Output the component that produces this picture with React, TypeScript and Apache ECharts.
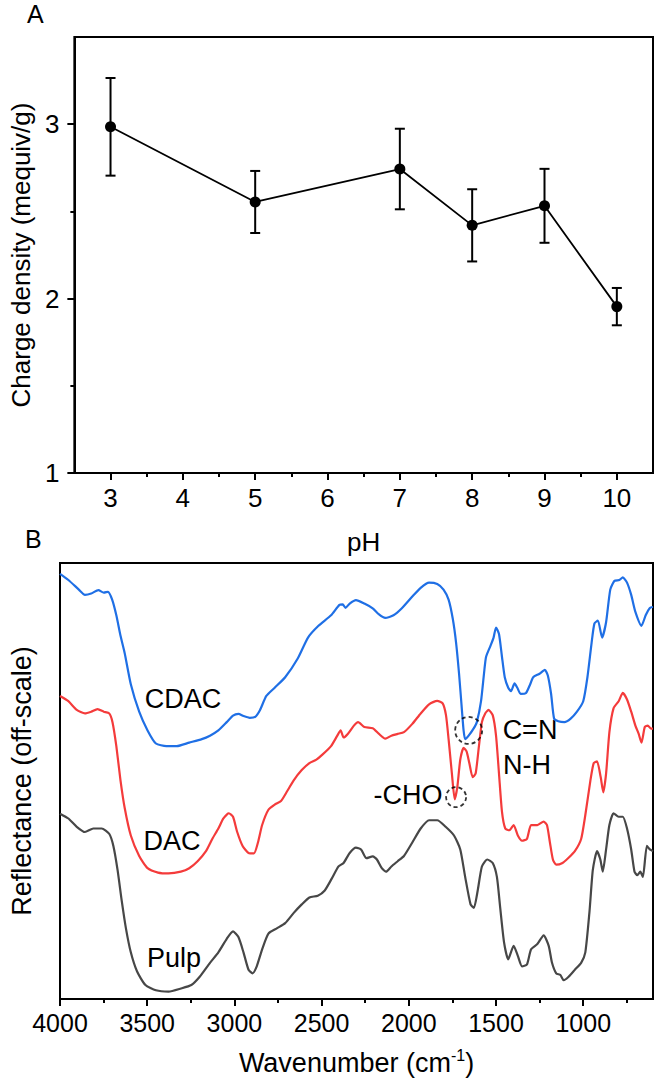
import React, { useEffect, useRef } from "react";
import * as echarts from "echarts";

// ---------- Panel A data ----------
const phValues = [3, 5, 7, 8, 9, 10];
const chargeDensity = [2.985, 2.554, 2.743, 2.42, 2.532, 1.954];
const chargeError = [0.28, 0.178, 0.231, 0.207, 0.212, 0.107];

const phMajorTicks = [3, 4, 5, 6, 7, 8, 9, 10];
const phMinorTicks = [3.5, 4.5, 5.5, 6.5, 7.5, 8.5, 9.5];
const densityTicks = [1, 2, 3];
const densityMinorTicks = [1.5, 2.5];

// ---------- Panel B data (wavenumber, reflectance off-scale) ----------
const wnMajorTicks = [4000, 3500, 3000, 2500, 2000, 1500, 1000];
const wnMinorTicks = [3750, 3250, 2750, 2250, 1750, 1250, 750];

const cdacSpectrum = [
  [4000, 97.5], [3952, 96.1], [3892, 93.9], [3857, 92.7], [3821, 93.0], [3780, 93.8], [3749, 93.2],
  [3725, 93.4], [3701, 91.6], [3677, 88.0], [3653, 83.3], [3629, 79.3], [3594, 72.2], [3546, 65.9],
  [3498, 61.6], [3450, 58.6], [3390, 58.0], [3331, 58.0], [3259, 58.8], [3187, 59.6], [3140, 60.4],
  [3092, 61.6], [3044, 63.5], [3008, 65.0], [2977, 65.4], [2948, 64.9], [2912, 64.5], [2881, 64.7],
  [2853, 66.3], [2817, 69.5], [2769, 71.4], [2709, 73.8], [2637, 78.1], [2578, 82.9], [2518, 85.6],
  [2446, 88.0], [2398, 90.4], [2379, 90.5], [2363, 89.7], [2339, 90.7], [2303, 91.5], [2255, 90.7],
  [2207, 89.6], [2171, 88.2], [2135, 87.4], [2088, 88.0], [2040, 89.6], [1980, 92.3], [1932, 94.3],
  [1884, 95.5], [1837, 95.2], [1801, 93.9], [1772, 91.6], [1748, 87.2], [1729, 81.7], [1712, 74.6],
  [1698, 67.5], [1686, 61.6], [1677, 59.6], [1657, 60.4], [1629, 62.0], [1610, 63.5], [1586, 68.3],
  [1567, 75.4], [1557, 78.5], [1533, 80.9], [1514, 82.9], [1500, 85.2], [1483, 83.7], [1466, 78.5],
  [1450, 73.8], [1430, 71.4], [1414, 70.6], [1394, 72.4], [1378, 71.4], [1359, 70.0], [1328, 70.2],
  [1304, 72.2], [1287, 73.8], [1251, 74.6], [1220, 75.5], [1203, 74.2], [1184, 69.9], [1167, 64.3],
  [1143, 63.7], [1108, 63.5], [1072, 64.3], [1036, 65.9], [1000, 68.3], [976, 73.8], [952, 81.7],
  [936, 86.1], [916, 86.8], [892, 82.9], [869, 86.4], [845, 93.9], [821, 95.9], [793, 96.1],
  [773, 96.7], [749, 95.5], [725, 92.7], [701, 88.8], [666, 85.6], [642, 88.0], [618, 89.7], [600, 89.9],
];

const dacSpectrum = [
  [4000, 69.5], [3952, 68.3], [3904, 66.3], [3857, 65.5], [3821, 65.9], [3785, 66.5], [3749, 65.9],
  [3718, 65.5], [3699, 63.5], [3677, 58.0], [3653, 50.1], [3629, 43.8], [3594, 37.5], [3546, 32.8],
  [3498, 30.0], [3438, 29.0], [3378, 28.8], [3307, 29.2], [3259, 30.0], [3211, 31.6], [3163, 33.9],
  [3127, 36.7], [3092, 39.1], [3063, 41.4], [3032, 42.6], [3008, 41.8], [2984, 38.3], [2953, 35.1],
  [2919, 33.5], [2888, 33.4], [2865, 35.9], [2841, 39.9], [2805, 43.4], [2769, 44.6], [2733, 45.4],
  [2697, 47.7], [2661, 50.1], [2614, 52.5], [2570, 54.1], [2530, 54.9], [2494, 56.1], [2446, 58.0],
  [2410, 60.4], [2391, 61.6], [2374, 60.0], [2350, 60.8], [2315, 62.7], [2291, 63.5], [2255, 62.4],
  [2207, 62.1], [2171, 60.8], [2135, 59.7], [2100, 60.4], [2064, 60.8], [2028, 61.2], [1980, 63.1],
  [1932, 65.5], [1884, 67.6], [1837, 68.4], [1806, 67.8], [1787, 65.1], [1772, 59.6], [1753, 51.7],
  [1737, 45.8], [1722, 48.6], [1705, 54.9], [1686, 57.6], [1669, 56.8], [1653, 54.1], [1634, 50.9],
  [1617, 51.7], [1598, 58.0], [1581, 63.5], [1562, 65.5], [1543, 66.3], [1519, 65.1], [1500, 60.4],
  [1483, 51.7], [1466, 43.0], [1447, 39.1], [1423, 38.7], [1399, 39.9], [1375, 37.5], [1351, 36.3],
  [1323, 36.7], [1299, 39.9], [1263, 39.9], [1227, 40.7], [1208, 39.9], [1191, 35.9], [1174, 32.0],
  [1155, 30.8], [1119, 31.2], [1084, 32.4], [1048, 33.9], [1012, 36.7], [988, 42.2], [959, 50.1],
  [940, 54.1], [921, 54.5], [900, 50.9], [885, 47.4], [869, 51.7], [850, 61.2], [826, 66.7],
  [797, 68.3], [773, 70.2], [749, 68.7], [725, 65.9], [701, 62.7], [682, 60.8], [666, 58.8],
  [647, 62.4], [630, 62.7], [611, 62.0], [600, 62.0],
];

const pulpSpectrum = [
  [4000, 42.5], [3952, 41.4], [3904, 39.5], [3857, 38.3], [3809, 39.1], [3761, 39.1], [3718, 37.9],
  [3694, 35.1], [3670, 29.6], [3646, 22.5], [3622, 16.2], [3594, 10.7], [3558, 6.3], [3510, 3.2],
  [3450, 2.0], [3378, 1.7], [3307, 2.4], [3247, 3.2], [3199, 5.1], [3140, 8.3], [3092, 10.7],
  [3044, 13.8], [3008, 15.5], [2977, 14.2], [2948, 10.7], [2919, 6.7], [2896, 5.9], [2872, 7.5],
  [2841, 11.4], [2805, 15.0], [2757, 16.2], [2709, 17.4], [2661, 19.7], [2614, 21.7], [2570, 23.3],
  [2522, 23.7], [2482, 24.9], [2442, 27.6], [2403, 30.4], [2374, 31.2], [2339, 33.5], [2303, 34.7],
  [2274, 34.3], [2243, 32.3], [2207, 32.7], [2183, 32.0], [2155, 30.0], [2131, 29.2], [2100, 30.4],
  [2064, 31.6], [2028, 32.8], [1980, 35.9], [1932, 39.1], [1884, 41.0], [1837, 41.0], [1789, 39.5],
  [1741, 37.5], [1705, 34.3], [1677, 28.0], [1646, 21.7], [1627, 20.9], [1605, 24.9], [1581, 30.4],
  [1550, 32.0], [1519, 31.2], [1495, 28.0], [1476, 20.9], [1454, 13.0], [1430, 9.1], [1399, 12.2],
  [1375, 9.9], [1351, 7.5], [1323, 7.9], [1299, 11.4], [1263, 12.6], [1227, 14.6], [1198, 12.2],
  [1179, 8.3], [1155, 5.9], [1131, 5.5], [1112, 4.3], [1084, 5.1], [1048, 6.7], [1012, 8.3],
  [988, 10.7], [964, 20.1], [945, 29.6], [921, 33.9], [902, 32.0], [888, 29.2], [869, 34.3],
  [850, 39.9], [826, 42.6], [797, 41.8], [773, 41.8], [749, 39.1], [725, 34.3], [706, 29.2],
  [690, 28.4], [673, 29.2], [658, 28.0], [635, 35.1], [618, 34.3], [600, 33.9],
];

// dashed circles marking C=N and -CHO bands
const bandMarks = [
  [1657, 61.6],
  [1729, 46.3],
];

const FONT = "'Liberation Sans', Arial, Helvetica, sans-serif";
const BLACK = "#000";

function buildOption() {
  const axisLineStyle = { show: true, lineStyle: { color: BLACK, width: 2 } };
  const tickStyle = { color: BLACK, width: 2 };
  const plain = (v: number) => String(v);

  return {
    animation: false,
    backgroundColor: "#fff",
    textStyle: { fontFamily: FONT },
    grid: [
      { left: 59, top: 37, width: 594, height: 436, show: true, borderColor: BLACK, borderWidth: 2, backgroundColor: "transparent" },
      { left: 59, top: 563, width: 594, height: 438, show: true, borderColor: BLACK, borderWidth: 2, backgroundColor: "transparent" },
    ],
    xAxis: [
      {
        gridIndex: 0, type: "value", min: 2.5, max: 10.5, position: "bottom",
        name: "pH", nameLocation: "middle", nameGap: 56,
        nameTextStyle: { fontSize: 26, color: BLACK, fontFamily: FONT },
        axisLine: axisLineStyle,
        axisTick: { show: true, customValues: phMajorTicks, length: 7, lineStyle: tickStyle },
        axisLabel: { customValues: phMajorTicks, fontSize: 26, color: BLACK, margin: 12, fontFamily: FONT, formatter: plain },
        splitLine: { show: false },
      },
      {
        gridIndex: 0, type: "value", min: 2.5, max: 10.5, position: "bottom",
        axisLine: { show: false },
        axisTick: { show: true, customValues: phMinorTicks, length: 4, lineStyle: tickStyle },
        axisLabel: { show: false },
        splitLine: { show: false },
      },
      {
        gridIndex: 1, type: "value", min: 600, max: 4000, inverse: true, position: "bottom",
        name: "Wavenumber (cm{sup|-1})", nameLocation: "middle", nameGap: 48,
        nameTextStyle: {
          fontSize: 27, color: BLACK, fontFamily: FONT, lineHeight: 32,
          rich: { sup: { fontSize: 16, color: BLACK, fontFamily: FONT, verticalAlign: "top", lineHeight: 18 } },
        },
        axisLine: axisLineStyle,
        axisTick: { show: true, customValues: wnMajorTicks, length: 7, lineStyle: tickStyle },
        axisLabel: { customValues: wnMajorTicks, fontSize: 25, color: BLACK, margin: 11, fontFamily: FONT, formatter: plain },
        splitLine: { show: false },
      },
      {
        gridIndex: 1, type: "value", min: 600, max: 4000, inverse: true, position: "bottom",
        axisLine: { show: false },
        axisTick: { show: true, customValues: wnMinorTicks, length: 4, lineStyle: tickStyle },
        axisLabel: { show: false },
        splitLine: { show: false },
      },
    ],
    yAxis: [
      {
        gridIndex: 0, type: "value", min: 1, max: 3.5, position: "left",
        name: "Charge density (mequiv/g)", nameLocation: "middle", nameGap: 31,
        nameTextStyle: { fontSize: 26, color: BLACK, fontFamily: FONT },
        axisLine: axisLineStyle,
        axisTick: { show: true, customValues: densityTicks, length: 7, lineStyle: tickStyle },
        axisLabel: { customValues: densityTicks, fontSize: 26, color: BLACK, margin: 15, fontFamily: FONT, formatter: plain },
        splitLine: { show: false },
      },
      {
        gridIndex: 0, type: "value", min: 1, max: 3.5, position: "left",
        axisLine: { show: false },
        axisTick: { show: true, customValues: densityMinorTicks, length: 4, lineStyle: tickStyle },
        axisLabel: { show: false },
        splitLine: { show: false },
      },
      {
        gridIndex: 1, type: "value", min: 0, max: 100, position: "left",
        name: "Reflectance (off-scale)", nameLocation: "middle", nameGap: 25,
        nameTextStyle: { fontSize: 27, color: BLACK, fontFamily: FONT },
        axisLine: axisLineStyle,
        axisTick: { show: false },
        axisLabel: { show: false },
        splitLine: { show: false },
      },
    ],
    series: [
      {
        type: "custom",
        name: "error",
        xAxisIndex: 0,
        yAxisIndex: 0,
        z: 2,
        encode: { x: 0, y: [1, 2] },
        data: phValues.map((p, i) => [p, chargeDensity[i] - chargeError[i], chargeDensity[i] + chargeError[i]]),
        renderItem: (params: any, api: any) => {
          const x = api.value(0);
          const lo = api.coord([x, api.value(1)]);
          const hi = api.coord([x, api.value(2)]);
          const cap = 5;
          const style = { stroke: BLACK, lineWidth: 2 };
          return {
            type: "group",
            children: [
              { type: "line", shape: { x1: hi[0], y1: hi[1], x2: lo[0], y2: lo[1] }, style },
              { type: "line", shape: { x1: hi[0] - cap, y1: hi[1], x2: hi[0] + cap, y2: hi[1] }, style },
              { type: "line", shape: { x1: lo[0] - cap, y1: lo[1], x2: lo[0] + cap, y2: lo[1] }, style },
            ],
          };
        },
      },
      {
        type: "line",
        name: "Charge density",
        xAxisIndex: 0,
        yAxisIndex: 0,
        z: 3,
        data: phValues.map((p, i) => [p, chargeDensity[i]]),
        symbol: "circle",
        symbolSize: 11,
        showSymbol: true,
        itemStyle: { color: BLACK },
        lineStyle: { color: BLACK, width: 1.8 },
      },
      {
        type: "line",
        name: "CDAC",
        xAxisIndex: 2,
        yAxisIndex: 2,
        data: cdacSpectrum,
        showSymbol: false,
        smooth: 0.2,
        lineStyle: { color: "#1f6fe5", width: 2.2 },
        itemStyle: { color: "#1f6fe5" },
      },
      {
        type: "line",
        name: "DAC",
        xAxisIndex: 2,
        yAxisIndex: 2,
        data: dacSpectrum,
        showSymbol: false,
        smooth: 0.2,
        lineStyle: { color: "#f43b3b", width: 2.2 },
        itemStyle: { color: "#f43b3b" },
      },
      {
        type: "line",
        name: "Pulp",
        xAxisIndex: 2,
        yAxisIndex: 2,
        data: pulpSpectrum,
        showSymbol: false,
        smooth: 0.2,
        lineStyle: { color: "#474747", width: 2.2 },
        itemStyle: { color: "#474747" },
      },
      {
        type: "scatter",
        name: "bands",
        xAxisIndex: 2,
        yAxisIndex: 2,
        z: 5,
        data: bandMarks,
        symbol: "circle",
        symbolSize: (_v: any, p: any) => (p.dataIndex === 0 ? 27 : 20),
        itemStyle: { color: "rgba(0,0,0,0)", borderColor: BLACK, borderWidth: 1.8, borderType: [4, 3] },
        silent: true,
      },
    ],
    graphic: [
      { type: "text", left: 27, top: 1, style: { text: "A", fontSize: 25, fill: BLACK, fontFamily: FONT } },
      { type: "text", left: 25, top: 526, style: { text: "B", fontSize: 25, fill: BLACK, fontFamily: FONT } },
      { type: "text", x: 183, y: 699, style: { text: "CDAC", fontSize: 27, fill: BLACK, fontFamily: FONT, align: "center", verticalAlign: "middle" } },
      { type: "text", x: 172, y: 841, style: { text: "DAC", fontSize: 27, fill: BLACK, fontFamily: FONT, align: "center", verticalAlign: "middle" } },
      { type: "text", x: 174, y: 958, style: { text: "Pulp", fontSize: 27, fill: BLACK, fontFamily: FONT, align: "center", verticalAlign: "middle" } },
      { type: "text", x: 530, y: 730, style: { text: "C=N", fontSize: 27, fill: BLACK, fontFamily: FONT, align: "center", verticalAlign: "middle" } },
      { type: "text", x: 527, y: 765, style: { text: "N-H", fontSize: 27, fill: BLACK, fontFamily: FONT, align: "center", verticalAlign: "middle" } },
      { type: "text", x: 408, y: 795, style: { text: "-CHO", fontSize: 27, fill: BLACK, fontFamily: FONT, align: "center", verticalAlign: "middle" } },
    ],
  };
}

export default function App() {
  const ref = useRef<HTMLDivElement>(null);
  useEffect(() => {
    document.body.style.margin = "0";
    if (!ref.current) return;
    const chart = echarts.init(ref.current, undefined, { renderer: "svg" });
    chart.setOption(buildOption() as any);
    return () => chart.dispose();
  }, []);
  return <div ref={ref} style={{ width: 656, height: 1080 }} />;
}
